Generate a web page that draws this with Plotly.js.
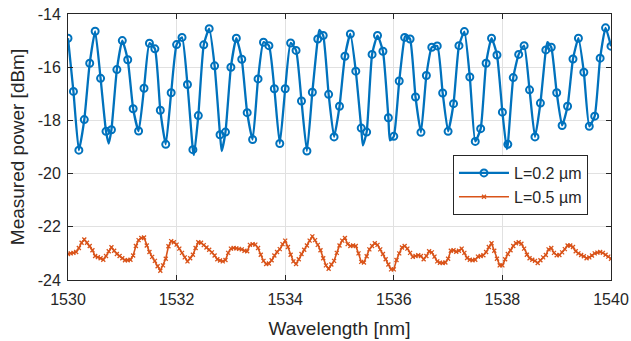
<!DOCTYPE html>
<html><head><meta charset="utf-8">
<script src="https://cdn.plot.ly/plotly-3.0.1.min.js"></script>
<style>html,body{margin:0;padding:0;background:#fff}#chart{width:631px;height:341px}</style>
</head><body><div id="chart"></div>
<script>
// Series names
const seriesNames = ['L=0.2 µm', 'L=0.5 µm'];

// L=0.2 µm : marker samples every 0.1 nm from 1530 to 1540
const blueStart = 1530, blueStep = 0.1;
const blueY = [
  -14.91,-16.91,-19.12,-17.97,-15.85,-14.65,-16.42,-18.41,-18.35,-16.09,
  -15.00,-15.72,-17.56,-18.40,-16.79,-15.10,-15.31,-17.62,-18.90,-16.96,
  -15.15,-14.88,-16.65,-19.10,-17.82,-15.16,-14.55,-15.95,-18.54,-18.44,
  -16.00,-14.91,-15.70,-17.71,-18.72,-16.44,-15.06,-15.19,-16.81,-18.87,
  -16.81,-15.09,-15.37,-17.27,-19.15,-16.94,-14.94,-14.81,-17.02,-18.62,
  -17.47,-15.59,-14.75,-16.15,-18.29,-18.44,-15.52,-14.81,-15.40,-17.90,
  -18.60,-16.52,-14.88,-14.94,-17.12,-18.45,-16.31,-15.25,-15.20,-16.97,
  -18.41,-17.37,-15.19,-14.66,-16.37,-18.79,-18.31,-15.85,-14.91,-15.54,
  -17.69,-18.90,-16.39,-15.52,-15.19,-16.85,-18.62,-17.35,-15.35,-15.25,
  -16.96,-18.19,-17.47,-15.69,-14.91,-16.19,-18.22,-17.84,-15.66,-14.52,
  -15.21
];
// L=0.2 µm : extra line-only samples between markers (dips / peaks)
const blueExtraX = [1530.75, 1532.32, 1532.83, 1534.63, 1535.43, 1535.93, 1536.23, 1538.08, 1538.83];
const blueExtraY = [-18.87, -19.30, -19.15, -14.60, -18.94, -18.75, -14.80, -19.08, -15.06];

// L=0.5 µm : samples every 0.05 nm from 1530 to 1540
const orangeStart = 1530, orangeStep = 0.05;
const orangeY = [
  -23.02,-23.00,-22.98,-22.95,-22.80,-22.60,-22.48,-22.60,-22.72,-22.88,
  -23.10,-23.14,-23.18,-23.24,-23.10,-22.92,-22.77,-22.90,-23.02,-23.10,
  -23.18,-23.26,-23.26,-23.24,-23.08,-22.72,-22.50,-22.42,-22.40,-22.70,
  -22.95,-23.13,-23.28,-23.48,-23.65,-23.45,-23.20,-22.73,-22.54,-22.58,
  -22.67,-22.82,-22.98,-23.15,-23.30,-23.18,-23.05,-22.80,-22.58,-22.60,
  -22.69,-22.78,-22.86,-22.96,-23.08,-23.22,-23.27,-23.30,-23.25,-22.98,
  -22.82,-22.80,-22.81,-22.83,-22.85,-22.90,-22.92,-22.68,-22.65,-22.67,
  -22.80,-23.05,-23.28,-23.40,-23.38,-23.26,-23.08,-22.95,-22.84,-22.65,
  -22.52,-22.76,-23.05,-23.30,-23.40,-23.22,-23.02,-22.86,-22.70,-22.52,
  -22.36,-22.50,-22.68,-22.88,-23.18,-23.45,-23.58,-23.42,-23.28,-22.98,
  -22.70,-22.52,-22.42,-22.65,-22.72,-22.70,-22.72,-23.00,-23.32,-23.34,
  -23.11,-22.85,-22.72,-22.62,-22.68,-22.85,-23.02,-23.22,-23.42,-23.60,
  -23.60,-23.25,-23.00,-22.78,-22.72,-22.82,-22.98,-23.13,-23.10,-23.07,
  -23.10,-23.22,-23.10,-22.92,-22.96,-23.12,-23.30,-23.35,-23.36,-23.34,
  -23.20,-22.90,-22.88,-22.94,-22.90,-22.82,-22.98,-23.17,-23.24,-23.26,
  -23.24,-23.12,-23.10,-23.07,-22.95,-22.76,-22.62,-22.90,-23.20,-23.45,
  -23.45,-23.22,-23.02,-22.88,-22.72,-22.62,-22.58,-22.64,-22.82,-23.05,
  -23.18,-23.24,-23.28,-23.36,-23.26,-23.15,-23.06,-22.85,-22.80,-22.98,
  -23.07,-23.06,-22.96,-22.84,-22.70,-22.70,-22.76,-22.92,-23.00,-23.06,
  -23.11,-23.18,-23.15,-23.08,-23.00,-22.97,-22.95,-22.98,-23.05,-23.12,
  -23.20
];

// Axis ticks
const xTicks = [1530, 1532, 1534, 1536, 1538, 1540];
const yTicks = [-24, -22, -20, -18, -16, -14];

// ---- build traces ----
const r2 = v => Math.round(v * 100) / 100;
const blueX = blueY.map((_, i) => r2(blueStart + i * blueStep));
const orangeX = orangeY.map((_, i) => r2(orangeStart + i * orangeStep));

const lineP = blueX.map((x, i) => [x, blueY[i]])
  .concat(blueExtraX.map((x, i) => [x, blueExtraY[i]]))
  .sort((a, b) => a[0] - b[0]);

const BLUE = '#0072BD', ORANGE = '#D95319', INK = '#262626';
const FONT = '"Liberation Sans", Arial, Helvetica, sans-serif';

const traces = [
  { x: lineP.map(p => p[0]), y: lineP.map(p => p[1]), mode: 'lines', type: 'scatter',
    line: { color: BLUE, width: 2.3, shape: 'spline', smoothing: 0.5 }, showlegend: false, hoverinfo: 'skip' },
  { x: blueX, y: blueY, mode: 'markers', type: 'scatter', showlegend: false,
    marker: { symbol: 'circle-open', size: 7, color: BLUE, line: { width: 2, color: BLUE } } },
  { x: [null], y: [null], mode: 'lines+markers', type: 'scatter', name: seriesNames[0],
    line: { color: BLUE, width: 2.3 },
    marker: { symbol: 'circle-open', size: 7, color: BLUE, line: { width: 2, color: BLUE } } },
  { x: orangeX, y: orangeY, mode: 'lines+markers', type: 'scatter', name: seriesNames[1],
    line: { color: ORANGE, width: 1.6 },
    marker: { symbol: 'x-thin-open', size: 4, color: ORANGE, line: { width: 1.3, color: ORANGE } } }
];

const axisCommon = {
  showline: true, linecolor: INK, linewidth: 1, mirror: 'ticks',
  ticks: 'inside', ticklen: 5, tickwidth: 1, tickcolor: INK,
  showgrid: true, gridcolor: '#e1e1e1', gridwidth: 1, zeroline: false,
  tickfont: { family: FONT, size: 16, color: INK }, automargin: false
};

const layout = {
  width: 631, height: 341,
  margin: { l: 68, r: 20, t: 14, b: 61 },
  paper_bgcolor: '#fff', plot_bgcolor: '#fff',
  font: { family: FONT, color: INK },
  xaxis: Object.assign({}, axisCommon, {
    range: [1530, 1540], tickvals: xTicks, ticktext: xTicks.map(String),
    ticklabelstandoff: 5,
    title: { text: 'Wavelength [nm]', font: { family: FONT, size: 19, color: INK }, standoff: 14 }
  }),
  yaxis: Object.assign({}, axisCommon, {
    range: [-24, -14], tickvals: yTicks, ticktext: yTicks.map(v => String(v)),
    ticklabelstandoff: 3,
    title: { text: 'Measured power [dBm]', font: { family: FONT, size: 19, color: INK }, standoff: 8 }
  }),
  legend: {
    x: 0.709, y: 0.47, xanchor: 'left', yanchor: 'top',
    bgcolor: '#fff', bordercolor: INK, borderwidth: 1,
    font: { family: FONT, size: 16, color: INK },
    itemwidth: 50, tracegroupgap: 0
  },
  showlegend: true
};

Plotly.newPlot('chart', traces, layout, { staticPlot: true, displayModeBar: false });
</script>
</body></html>
